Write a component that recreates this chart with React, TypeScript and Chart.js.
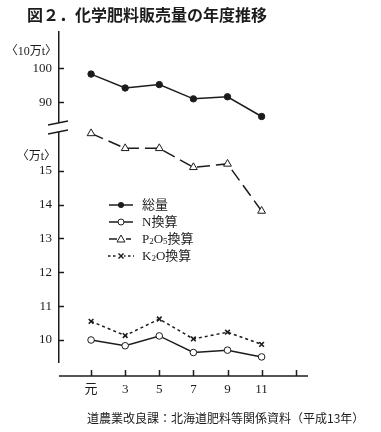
import React, { useEffect, useRef } from 'react';
import { Chart, registerables } from 'chart.js';

Chart.register(...registerables);

// ---- data ----
const years = ['元', '3', '5', '7', '9', '11', ''];
const totalValues = [98.3, 94.2, 95.2, 91.0, 91.6, 85.8]; // 10万t
const nValues = [10.0, 9.83, 10.12, 9.63, 9.7, 9.5]; // 万t
const p2o5Values = [16.1, 15.66, 15.66, 15.1, 15.2, 13.81]; // 万t
const k2oValues = [10.55, 10.13, 10.62, 10.03, 10.23, 9.87]; // 万t
const upperTicks = [90, 100];
const lowerTicks = [10, 11, 12, 13, 14, 15];
const seriesNames = ['総量', 'N換算', 'P₂O₅換算', 'K₂O換算'];
// legend text split into [text, isSubscript] runs
const legendRuns: [string, boolean][][] = [
  [['総量', false]],
  [['N換算', false]],
  [['P', false], ['2', true], ['O', false], ['5', true], ['換算', false]],
  [['K', false], ['2', true], ['O換算', false]],
];
const titleText = '図２．化学肥料販売量の年度推移';
const sourceText = '道農業改良課：北海道肥料等関係資料（平成13年）';
const upperUnit = '〈10万t〉';
const lowerUnit = '〈万t〉';

const serif = '"Liberation Serif", "DejaVu Serif", "Noto Sans CJK JP", serif';
const sans = '"Noto Sans CJK JP", "Noto Sans", sans-serif';
const ink = '#1c1c1c';

const toPoints = (vals: number[]) => vals.map((v, i) => ({ x: i, y: v }));

export default function App() {
  const ref = useRef<HTMLCanvasElement>(null);

  useEffect(() => {
    const canvas = ref.current;
    if (!canvas) return;

    const decor = {
      id: 'decor',
      afterDraw(chart: any) {
        const ctx = chart.ctx as CanvasRenderingContext2D;
        const area = chart.chartArea;
        const yT = chart.scales.yTop;
        const yB = chart.scales.yBot;
        const xS = chart.scales.x;
        ctx.save();
        ctx.strokeStyle = ink;
        ctx.fillStyle = ink;
        ctx.lineWidth = 1.5;
        const line = (x1: number, y1: number, x2: number, y2: number) => {
          ctx.beginPath();
          ctx.moveTo(x1, y1);
          ctx.lineTo(x2, y2);
          ctx.stroke();
        };
        // inward y ticks
        for (const s of [yT, yB]) {
          for (const t of s.ticks) {
            const py = Math.round(s.getPixelForValue(t.value)) + 0.5;
            line(area.left, py, area.left + 5, py);
          }
        }
        // axis break
        const b = yT.top < yB.top ? yT.bottom : yB.bottom;
        ctx.fillStyle = '#fff';
        ctx.fillRect(area.left - 4, b - 4, 8, 9);
        ctx.lineWidth = 1.3;
        line(area.left - 11, b - 2, area.left + 9, b - 6);
        line(area.left - 11, b + 7, area.left + 9, b + 3);
        // x axis
        ctx.lineWidth = 1.5;
        const y0 = area.bottom + 14;
        line(area.left, y0, area.right, y0);
        for (let i = 0; i < years.length; i++) {
          const px = Math.round(xS.getPixelForValue(i)) + 0.5;
          line(px, y0 - 6, px, y0);
        }
        // title
        ctx.fillStyle = ink;
        ctx.textBaseline = 'middle';
        ctx.textAlign = 'left';
        ctx.font = `bold 16px ${sans}`;
        ctx.fillText(titleText, 27, 15);
        // units
        ctx.font = `12px ${serif}`;
        ctx.textAlign = 'right';
        ctx.fillText(upperUnit, 57, 52);
        ctx.fillText(lowerUnit, 56, 157);
        // legend
        ctx.textAlign = 'left';
        const rows = [205, 222, 239, 256];
        const mx = 121;
        chart.data.datasets.forEach((ds: any, i: number) => {
          const ry = rows[i];
          ctx.strokeStyle = ink;
          ctx.lineWidth = 1.5;
          if (i === 2) {
            line(109, ry, 117, ry);
            line(126, ry, 131, ry);
          } else if (i === 3) {
            ctx.setLineDash([2.5, 2.5]);
            line(108, ry, 134, ry);
            ctx.setLineDash([]);
          } else {
            line(109, ry, 133, ry);
          }
          ctx.lineWidth = 1;
          if (i === 0) {
            ctx.fillStyle = ink;
            ctx.beginPath();
            ctx.arc(mx, ry, 3, 0, Math.PI * 2);
            ctx.fill();
          } else if (i === 1) {
            ctx.fillStyle = '#fff';
            ctx.beginPath();
            ctx.arc(mx, ry, 3, 0, Math.PI * 2);
            ctx.fill();
            ctx.stroke();
          } else if (i === 2) {
            ctx.fillStyle = '#fff';
            ctx.beginPath();
            ctx.moveTo(mx, ry - 4);
            ctx.lineTo(mx + 4, ry + 3);
            ctx.lineTo(mx - 4, ry + 3);
            ctx.closePath();
            ctx.fill();
            ctx.stroke();
          } else {
            ctx.fillStyle = '#fff';
            ctx.fillRect(mx - 3, ry - 3, 6, 6);
            ctx.lineWidth = 1.4;
            line(mx - 2.5, ry - 2.5, mx + 2.5, ry + 2.5);
            line(mx - 2.5, ry + 2.5, mx + 2.5, ry - 2.5);
          }
          ctx.fillStyle = ink;
          let tx = 142;
          for (const [txt, sub] of legendRuns[i]) {
            ctx.font = sub ? `9px ${serif}` : `13px ${serif}`;
            ctx.fillText(txt, tx, ry + 0.5 + (sub ? 2.5 : 0));
            tx += ctx.measureText(txt).width;
          }
        });
        // source
        ctx.font = `12px ${sans}`;
        ctx.fillText(sourceText, 87, 418);
        ctx.restore();
      },
    };

    const chart = new Chart(canvas, {
      type: 'line',
      data: {
        datasets: [
          {
            label: seriesNames[0],
            yAxisID: 'yTop',
            data: toPoints(totalValues),
            borderColor: ink,
            borderWidth: 1.5,
            pointStyle: 'circle',
            pointRadius: 3.2,
            pointBackgroundColor: ink,
            pointBorderColor: ink,
            pointBorderWidth: 1,
          },
          {
            label: seriesNames[1],
            yAxisID: 'yBot',
            data: toPoints(nValues),
            borderColor: ink,
            borderWidth: 1.5,
            pointStyle: 'circle',
            pointRadius: 3.3,
            pointBackgroundColor: '#fff',
            pointBorderColor: ink,
            pointBorderWidth: 1,
          },
          {
            label: seriesNames[2],
            yAxisID: 'yBot',
            data: toPoints(p2o5Values),
            borderColor: ink,
            borderWidth: 1.5,
            borderDash: [13, 6],
            pointStyle: 'triangle',
            pointRadius: 4.5,
            pointBackgroundColor: '#fff',
            pointBorderColor: ink,
            pointBorderWidth: 1,
          },
          {
            label: seriesNames[3],
            yAxisID: 'yBot',
            data: toPoints(k2oValues),
            borderColor: ink,
            borderWidth: 1.5,
            borderDash: [3, 3],
            pointStyle: 'crossRot',
            pointRadius: 3.3,
            pointBackgroundColor: '#fff',
            pointBorderColor: ink,
            pointBorderWidth: 1.6,
          },
        ],
      } as any,
      options: {
        animation: false,
        responsive: false,
        devicePixelRatio: 1,
        layout: { padding: { top: 32, right: 73, bottom: 0, left: 0 } },
        plugins: { legend: { display: false }, tooltip: { enabled: false }, title: { display: false } },
        elements: { line: { tension: 0 } },
        scales: {
          x: {
            type: 'linear',
            min: -0.94,
            max: 6.36,
            grid: { display: false, drawTicks: false },
            border: { display: false },
            afterBuildTicks: (s: any) => {
              s.ticks = years.map((_, i) => ({ value: i }));
            },
            afterFit: (s: any) => {
              s.height = 70;
            },
            ticks: {
              autoSkip: false,
              maxRotation: 0,
              padding: 20,
              color: ink,
              font: { family: serif, size: 13 },
              callback: (v: any) => years[v] ?? '',
            },
          },
          yBot: {
            type: 'linear',
            position: 'left',
            stack: 'y',
            stackWeight: 235,
            min: 9.35,
            max: 16.29,
            grid: { display: false, drawTicks: false },
            border: { display: true, color: ink, width: 1.5 },
            afterBuildTicks: (s: any) => {
              s.ticks = lowerTicks.map((v) => ({ value: v }));
            },
            afterFit: (s: any) => {
              s.width = 59;
            },
            ticks: { padding: 7, color: ink, font: { family: serif, size: 13 } },
          },
          yTop: {
            type: 'linear',
            position: 'left',
            stack: 'y',
            stackWeight: 95,
            min: 82.7,
            max: 110.7,
            grid: { display: false, drawTicks: false },
            border: { display: true, color: ink, width: 1.5 },
            afterBuildTicks: (s: any) => {
              s.ticks = upperTicks.map((v) => ({ value: v }));
            },
            afterFit: (s: any) => {
              s.width = 59;
            },
            ticks: { padding: 7, color: ink, font: { family: serif, size: 13 } },
          },
        },
      } as any,
      plugins: [decor],
    });

    return () => chart.destroy();
  }, []);

  return (
    <div style={{ position: 'absolute', left: 0, top: 0, width: 381, height: 432, background: '#fff' }}>
      <canvas ref={ref} width={381} height={432} style={{ display: 'block', width: 381, height: 432 }} />
    </div>
  );
}
